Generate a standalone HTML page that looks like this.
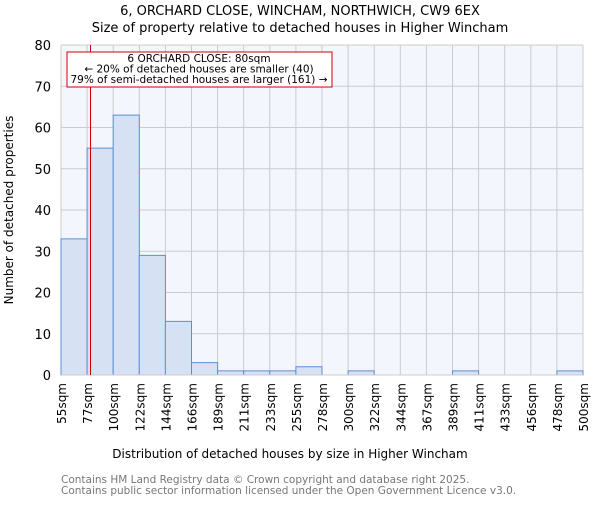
<!DOCTYPE html>
<html><head><meta charset="utf-8"><style>
body{margin:0;background:#fff}
svg text{font-family:"DejaVu Sans","Liberation Sans",sans-serif}
</style></head><body>
<svg id="c" width="600" height="500" viewBox="0 0 600 500">
<text x="300" y="15" text-anchor="middle" font-size="13">6, ORCHARD CLOSE, WINCHAM, NORTHWICH, CW9 6EX</text>
<text x="300" y="32" text-anchor="middle" font-size="13">Size of property relative to detached houses in Higher Wincham</text>
<rect x="61" y="45" width="522" height="330" fill="#f3f6fd"/>
<g id="grid"></g><g id="bars"></g><g id="axes"></g>
<text x="290" y="458" text-anchor="middle" font-size="12">Distribution of detached houses by size in Higher Wincham</text>
<text transform="translate(13,210) rotate(-90)" text-anchor="middle" font-size="12">Number of detached properties</text>
<text x="61" y="483" font-size="10.5" fill="#777">Contains HM Land Registry data © Crown copyright and database right 2025.</text>
<text x="61" y="494" font-size="10.5" fill="#777">Contains public sector information licensed under the Open Government Licence v3.0.</text>
</svg>
<script>
const tickLabels=["55sqm","77sqm","100sqm","122sqm","144sqm","166sqm","189sqm","211sqm","233sqm","255sqm","278sqm","300sqm","322sqm","344sqm","367sqm","389sqm","411sqm","433sqm","456sqm","478sqm","500sqm"];
const binEdges=[55,77,100,122,144,166,189,211,233,255,278,300,322,344,367,389,411,433,456,478,500];
const counts=[33,55,63,29,13,3,1,1,1,2,0,1,0,0,0,1,0,0,0,1];
const yTicks=[0,10,20,30,40,50,60,70,80];
const propertySize=80;
const NS="http://www.w3.org/2000/svg";
const X0=61,X1=583,Y0=375,Y1=45,n=counts.length,bw=(X1-X0)/n;
const xi=i=>X0+i*bw;
const xv=v=>{for(let i=0;i<binEdges.length-1;i++){if(v<=binEdges[i+1])return xi(i)+(v-binEdges[i])/(binEdges[i+1]-binEdges[i])*bw;}return X1;};
const y=v=>Y0-(v/80)*(Y0-Y1);
function mk(t,a,p){const e=document.createElementNS(NS,t);for(const k in a)e.setAttribute(k,a[k]);p.appendChild(e);return e;}
const grid=document.getElementById('grid'),bars=document.getElementById('bars'),axes=document.getElementById('axes');
yTicks.forEach(v=>{
 const l=mk('line',{x1:X0,x2:X1,y1:y(v),y2:y(v),stroke:'#ccc'},grid);
 
 
 const t=mk('text',{x:X0-10,y:y(v)+5,'text-anchor':'end','font-size':13},axes);
 t.textContent=v;
 
 
});
tickLabels.forEach((s,i)=>{
 const gx=xi(i);
 const l=mk('line',{x1:gx,x2:gx,y1:Y1,y2:Y0,stroke:'#ccc'},grid);
 
 
 const tx=gx+5, ty=383;
 const t=document.createElementNS(NS,'text');
 t.setAttribute('x',tx);
 t.setAttribute('y',ty);
 t.setAttribute('text-anchor','end');
 t.setAttribute('font-size','12');
 t.setAttribute('transform','rotate(-90 '+tx+' '+ty+')');
 t.textContent=s;
 
 
 axes.appendChild(t);
});
counts.forEach((c,i)=>{
 const r=mk('rect',{x:xi(i),y:y(c),width:bw,height:Y0-y(c),fill:'#d6e1f3',stroke:'#5b8fd6','stroke-width':1},bars);
 
 
});
const ax=mk('line',{x1:X0,x2:X1,y1:Y0,y2:Y0,stroke:'#ccc'},axes);


const px=xv(propertySize);
const ml=mk('line',{x1:px,x2:px,y1:Y1,y2:Y0,stroke:'#c00','stroke-width':1},axes);


const box=mk('rect',{x:67,y:52,width:265,height:35,fill:'#fff',stroke:'#c00'},axes);


["6 ORCHARD CLOSE: 80sqm","← 20% of detached houses are smaller (40)","79% of semi-detached houses are larger (161) →"].forEach((s,i)=>{
 const t=mk('text',{x:199,y:62+i*10.5,'text-anchor':'middle','font-size':10.5},axes);
 t.textContent=s;
 
 
});
</script>
</body></html>
